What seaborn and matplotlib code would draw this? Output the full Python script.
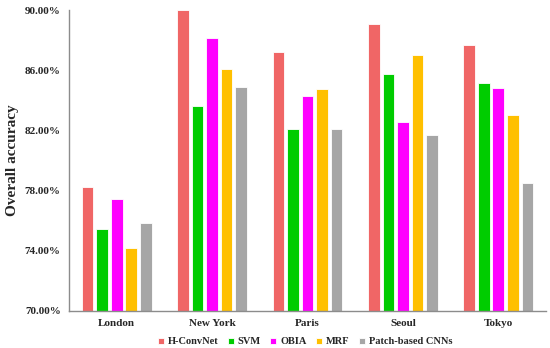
import pandas as pd
import matplotlib.pyplot as plt
import matplotlib.ticker as mtick
import seaborn as sns

cities = ['London', 'New York', 'Paris', 'Seoul', 'Tokyo']
methods = ['H-ConvNet', 'SVM', 'OBIA', 'MRF', 'Patch-based CNNs']

h_convnet = [78.22, 90.02, 87.19, 89.07, 87.65]
svm = [75.43, 83.62, 82.11, 85.75, 85.13]
obia = [77.46, 88.16, 84.29, 82.54, 84.84]
mrf = [74.19, 86.06, 84.77, 87.03, 83.04]
patch_cnn = [75.87, 84.90, 82.07, 81.67, 78.48]

colors = ['#F06666', '#00CC00', '#FF00FF', '#FFC000', '#A6A6A6']

rows = []
for method, values in zip(methods, [h_convnet, svm, obia, mrf, patch_cnn]):
    for city, v in zip(cities, values):
        rows.append({'city': city, 'method': method, 'acc': v})
df = pd.DataFrame(rows)

sns.set_style('white')
plt.rcParams['font.family'] = ['Liberation Serif', 'DejaVu Serif']
plt.rcParams['font.weight'] = 'bold'

fig = plt.figure(figsize=(5.5, 3.48), dpi=100)
ax = fig.add_axes([69 / 550, 1 - 311 / 348, 477 / 550, 301 / 348])

sns.barplot(data=df, x='city', y='acc', hue='method', hue_order=methods,
            palette=colors, saturation=1, width=0.76, gap=0.2,
            edgecolor='white', linewidth=0.6, ax=ax)

ax.set_ylim(70, 90)
ax.set_yticks([70, 74, 78, 82, 86, 90])
ax.yaxis.set_major_formatter(mtick.FormatStrFormatter('%.2f%%'))
ax.tick_params(axis='both', length=0, labelsize=8)
ax.tick_params(axis='y', pad=6)
ax.tick_params(axis='x', pad=6)
for lbl in ax.get_xticklabels() + ax.get_yticklabels():
    lbl.set_fontweight('bold')
ax.set_xlabel('')
ax.set_ylabel('Overall accuracy', fontsize=11, fontweight='bold', labelpad=4)

sns.despine(ax=ax)
for side in ['left', 'bottom']:
    ax.spines[side].set_color('#8C8C8C')
    ax.spines[side].set_linewidth(1.0)

ax.legend_.remove()
handles, labels = ax.get_legend_handles_labels()
fig.legend(handles, labels, loc='center', bbox_to_anchor=(305 / 550, 1 - 342 / 348),
           ncol=5, frameon=False, handlelength=0.6, handleheight=0.6,
           handletextpad=0.35, columnspacing=0.9,
           prop={'weight': 'bold', 'size': 7.5})

fig.savefig('out.png', dpi=100)
